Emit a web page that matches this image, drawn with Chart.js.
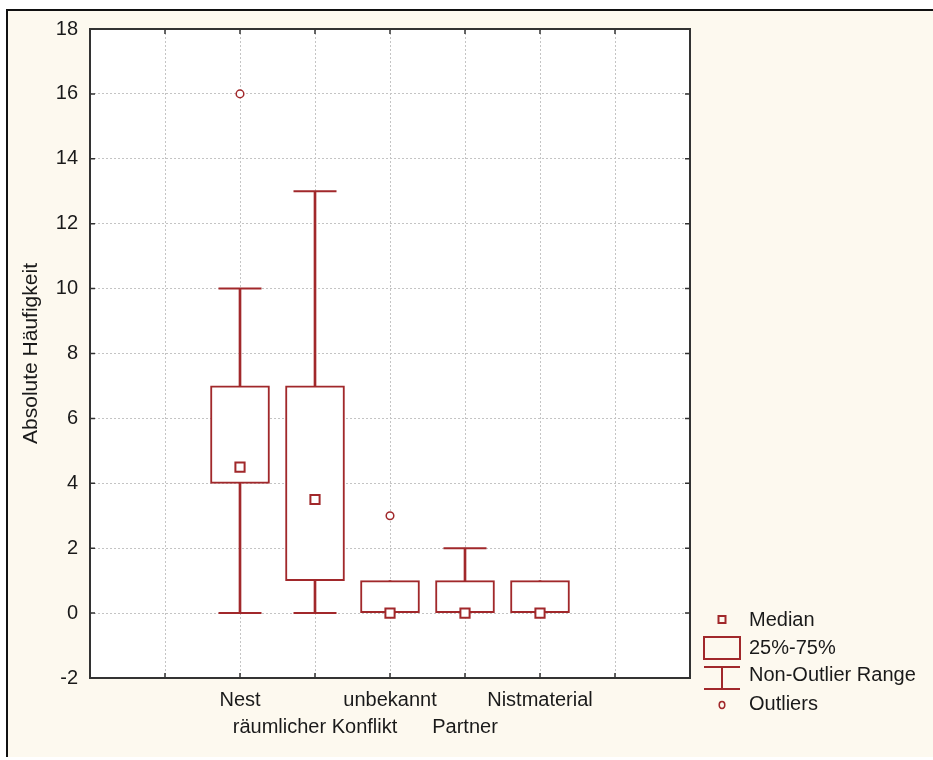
<!DOCTYPE html>
<html>
<head>
<meta charset="utf-8">
<script src="https://cdn.jsdelivr.net/npm/chart.js@4"></script>
<style>
  html, body { margin: 0; padding: 0; background: #fff; }
  #frame {
    position: absolute; left: 6px; top: 9px; width: 925px; height: 746px;
    background: #fdf9ef; border-left: 2px solid #111; border-top: 2px solid #111;
  }
  #wrap { position: absolute; left: 0; top: 0; width: 933px; height: 760px; }
</style>
</head>
<body>
<div id="frame"></div>
<div id="wrap"><canvas id="boxChart"></canvas></div>
<script>
const categories = ['Nest', 'räumlicher Konflikt', 'unbekannt', 'Partner', 'Nistmaterial'];
const q1 = [4, 1, 0, 0, 0];
const q3 = [7, 7, 1, 1, 1];
const medians = [4.5, 3.5, 0, 0, 0];
const whiskerLow = [0, 0, 0, 0, 0];
const whiskerHigh = [10, 13, 1, 2, 1];
const outliers = [[16], [], [3], [], []];
const yTicks = [-2, 0, 2, 4, 6, 8, 10, 12, 14, 16, 18];
const legendLabels = ['Median', '25%-75%', 'Non-Outlier Range', 'Outliers'];

const red = '#a1282b';
const font = "'Liberation Sans', Arial, sans-serif";
const slotOffset = 2; // first box sits in the third slot of the axis

const xOf = i => i + slotOffset;

const boxData = categories.map((c, i) => ({ x: xOf(i), y: [q1[i], q3[i]] }));
const whiskerData = categories.map((c, i) => ({ x: xOf(i), y: [whiskerLow[i], whiskerHigh[i]] }));
const medianData = categories.map((c, i) => ({ x: xOf(i), y: medians[i] }));
const capData = [];
categories.forEach((c, i) => {
  if (whiskerLow[i] < q1[i]) capData.push({ x: xOf(i), y: whiskerLow[i] });
  if (whiskerHigh[i] > q3[i]) capData.push({ x: xOf(i), y: whiskerHigh[i] });
});
const outlierData = [];
outliers.forEach((list, i) => list.forEach(v => outlierData.push({ x: xOf(i), y: v })));

// white plot area, dark frame and inward ticks
const framePlugin = {
  id: 'frame',
  beforeDraw(chart) {
    const { ctx, chartArea: a } = chart;
    ctx.save();
    ctx.fillStyle = '#fff';
    ctx.fillRect(a.left, a.top, a.width, a.height);
    ctx.restore();
  },
  afterDatasetsDraw(chart) {
    const { ctx, chartArea: a, scales } = chart;
    ctx.save();
    ctx.strokeStyle = '#333';
    ctx.lineWidth = 2;
    ctx.strokeRect(a.left, a.top, a.width, a.height);
    ctx.lineWidth = 1.5;
    ctx.beginPath();
    scales.y.ticks.forEach(t => {
      const y = scales.y.getPixelForValue(t.value);
      ctx.moveTo(a.left, y); ctx.lineTo(a.left + 5, y);
      ctx.moveTo(a.right, y); ctx.lineTo(a.right - 5, y);
    });
    scales.x.ticks.forEach(t => {
      const x = scales.x.getPixelForValue(t.value);
      ctx.moveTo(x, a.bottom); ctx.lineTo(x, a.bottom - 5);
      ctx.moveTo(x, a.top); ctx.lineTo(x, a.top + 5);
    });
    ctx.stroke();
    ctx.restore();
  }
};

// box plot key at lower right
const keyPlugin = {
  id: 'boxKey',
  afterDraw(chart) {
    const { ctx, chartArea: a } = chart;
    const cx = a.right + 32;
    const tx = a.right + 59;
    const rows = [a.bottom - 58, a.bottom - 30, a.bottom - 3, a.bottom + 26];
    ctx.save();
    ctx.strokeStyle = red;
    ctx.lineWidth = 2;
    ctx.strokeRect(cx - 3.5, rows[0] - 4, 7, 7);
    ctx.strokeRect(cx - 18, rows[1] - 11, 36, 22);
    ctx.beginPath();
    ctx.moveTo(cx - 18, rows[2] - 8); ctx.lineTo(cx + 18, rows[2] - 8);
    ctx.moveTo(cx - 18, rows[2] + 14); ctx.lineTo(cx + 18, rows[2] + 14);
    ctx.moveTo(cx, rows[2] - 8); ctx.lineTo(cx, rows[2] + 14);
    ctx.stroke();
    ctx.lineWidth = 1.5;
    ctx.beginPath();
    ctx.ellipse(cx, rows[3] + 1, 2.8, 3.4, 0, 0, Math.PI * 2);
    ctx.stroke();
    ctx.fillStyle = '#1a1a1a';
    ctx.font = `20px ${font}`;
    ctx.textBaseline = 'middle';
    legendLabels.forEach((txt, i) => ctx.fillText(txt, tx, rows[i]));
    ctx.restore();
  }
};

new Chart(document.getElementById('boxChart'), {
  data: {
    datasets: [
      {
        type: 'scatter',
        data: medianData,
        pointStyle: 'rect',
        radius: 6.5,
        borderColor: red,
        backgroundColor: '#fff',
        borderWidth: 2,
        order: 1
      },
      {
        type: 'scatter',
        data: outlierData,
        pointStyle: 'circle',
        radius: 3.8,
        borderColor: red,
        backgroundColor: '#fff',
        borderWidth: 1.5,
        order: 1
      },
      {
        type: 'bar',
        data: boxData,
        grouped: false,
        barThickness: 59,
        backgroundColor: '#fff',
        borderColor: red,
        borderWidth: 2,
        borderSkipped: false,
        order: 2
      },
      {
        type: 'scatter',
        data: capData,
        pointStyle: 'line',
        radius: 21.5,
        borderColor: red,
        borderWidth: 2,
        order: 3
      },
      {
        type: 'bar',
        data: whiskerData,
        grouped: false,
        barThickness: 2,
        backgroundColor: red,
        borderWidth: 0,
        order: 4
      }
    ]
  },
  options: {
    responsive: true,
    maintainAspectRatio: false,
    animation: false,
    events: [],
    layout: { padding: { top: 29, right: 243, bottom: 0, left: 0 } },
    plugins: { legend: { display: false }, tooltip: { enabled: false } },
    scales: {
      x: {
        type: 'linear',
        min: 0,
        max: 8,
        offset: false,
        afterBuildTicks: scale => {
          scale.ticks = [0, 1, 2, 3, 4, 5, 6, 7, 8].map(v => ({ value: v }));
        },
        afterFit: scale => { scale.height = 82; },
        grid: { color: '#c4c4c4', lineWidth: 1, drawTicks: false, offset: false },
        border: { display: false, dash: [2, 2] },
        ticks: {
          autoSkip: false,
          maxRotation: 0,
          padding: 9,
          color: '#1a1a1a',
          font: { family: font, size: 20, lineHeight: 1.35 },
          callback: value => {
            const i = value - slotOffset;
            if (i < 0 || i >= categories.length) return '';
            return i % 2 === 0 ? [categories[i], ''] : ['', categories[i]];
          }
        }
      },
      y: {
        min: -2,
        max: 18,
        afterBuildTicks: scale => { scale.ticks = yTicks.map(v => ({ value: v })); },
        afterFit: scale => { scale.width = 90; },
        grid: { color: '#c4c4c4', lineWidth: 1, drawTicks: false },
        border: { display: false, dash: [2, 2] },
        ticks: {
          padding: 12,
          color: '#1a1a1a',
          font: { family: font, size: 20 }
        },
        title: {
          display: true,
          text: 'Absolute Häufigkeit',
          color: '#1a1a1a',
          font: { family: font, size: 21 },
          padding: { top: 19, bottom: 0 }
        }
      }
    }
  },
  plugins: [framePlugin, keyPlugin]
});
</script>
</body>
</html>
